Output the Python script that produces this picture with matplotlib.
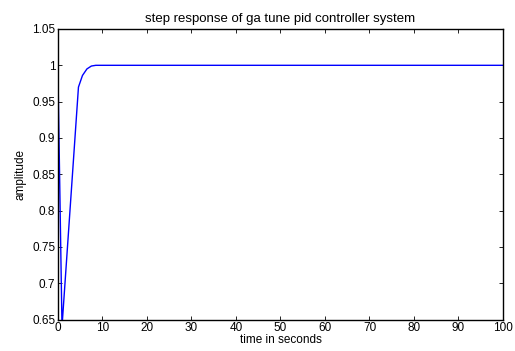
import numpy as np
import matplotlib.pyplot as plt

# step response samples
time_s = [0, 0.02, 0.9, 4.6, 5.5, 6.5, 7.5, 8.5, 10, 100]
amplitude = [0.0, 0.98, 0.64, 0.97, 0.986, 0.995, 0.999, 1.0, 1.0, 1.0]

xticks = np.arange(0, 101, 10)
yticks = [0.65, 0.7, 0.75, 0.8, 0.85, 0.9, 0.95, 1, 1.05]
ytick_labels = ['0.65', '0.7', '0.75', '0.8', '0.85', '0.9', '0.95', '1', '1.05']

plt.rcParams['font.family'] = ['Liberation Sans', 'DejaVu Sans']

fig = plt.figure(figsize=(5.15, 3.51), dpi=100)
ax = fig.add_axes([0.1126, 0.0897, 0.8641, 0.8277])

ax.plot(time_s, amplitude, color='#0000ff', lw=1.0)

ax.set_xlim(0, 100)
ax.set_ylim(0.65, 1.05)
ax.set_xticks(xticks)
ax.set_yticks(yticks)
ax.set_yticklabels(ytick_labels)
ax.tick_params(direction='in', length=3, width=0.6, labelsize=8.5, top=True, right=True, pad=2)
for spine in ax.spines.values():
    spine.set_linewidth(1.0)

ax.set_title('step response of ga tune pid controller system', fontsize=9.5, pad=5)
ax.set_xlabel('time in seconds', fontsize=8.5, labelpad=0)
ax.set_ylabel('amplitude', fontsize=8.5, labelpad=4)

fig.savefig('out.png', dpi=100)
